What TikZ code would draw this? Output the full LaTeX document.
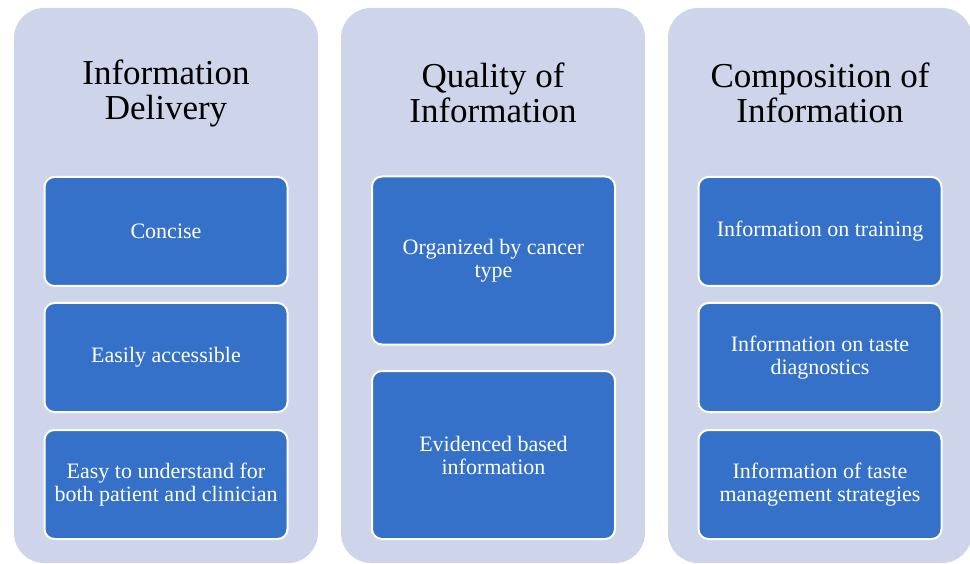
\documentclass[tikz,border=0pt]{standalone}
\usepackage{fontspec}
\setmainfont{Liberation Serif}
\definecolor{panelBg}{RGB}{206,212,234}
\definecolor{itemBlue}{RGB}{53,113,201}
\tikzstyle{panelStyle}=[shape = rectangle, rounded corners = 30pt, fill = panelBg, draw = none, minimum width = 304pt, minimum height = 555pt, inner sep = 0pt]
\tikzstyle{headStyle}=[align = center, text = black, font = \rmfamily\fontsize{35}{35}\selectfont, inner sep = 0pt]

\begin{document}
\begin{tikzpicture}[x = 1pt, y = -1pt]
\tikzstyle{itemStyle}=[shape = rectangle, rounded corners = 10pt, fill = itemBlue, draw = white, line width = 2pt, minimum width = 243pt, align = center, text = white, font = \rmfamily\fontsize{22}{23}\selectfont, inner sep = 0pt]
\tikzstyle{shortItem}=[itemStyle, minimum height = 109pt]
\tikzstyle{tallItem}=[itemStyle, minimum height = 168pt]
\clip (0,0) rectangle (970,564);
\useasboundingbox (0,0) rectangle (970,564);
% Panels
\node[panelStyle] (p1) at (166, 285.5) {};
\node[panelStyle] (p2) at (493, 285.5) {};
\node[panelStyle] (p3) at (820, 285.5) {};
% Headings
\node[headStyle] (h1) at (166, 93) {Information\\Delivery};
\node[headStyle] (h2) at (493, 93) {Quality of\\Information};
\node[headStyle] (h3) at (820, 93) {Composition of\\Information};
% Start left
\node[shortItem] (b11) at (166, 231.5) {Concise};
\node[shortItem] (b12) at (166, 357.5) {Easily accessible};
\node[shortItem] (b13) at (166, 484.5) {Easy to understand for\\both patient and clinician};
% Start middle
\node[tallItem] (b21) at (493.5, 260.5) {Organized by cancer\\type};
\node[tallItem] (b22) at (493.5, 455) {Evidenced based\\information};
% Start right
\node[shortItem] (b31) at (820, 231.5) {Information on training};
\node[shortItem] (b32) at (820, 357.5) {Information on taste\\diagnostics};
\node[shortItem] (b33) at (820, 484.5) {Information of taste\\management strategies};
\end{tikzpicture}
\end{document}
